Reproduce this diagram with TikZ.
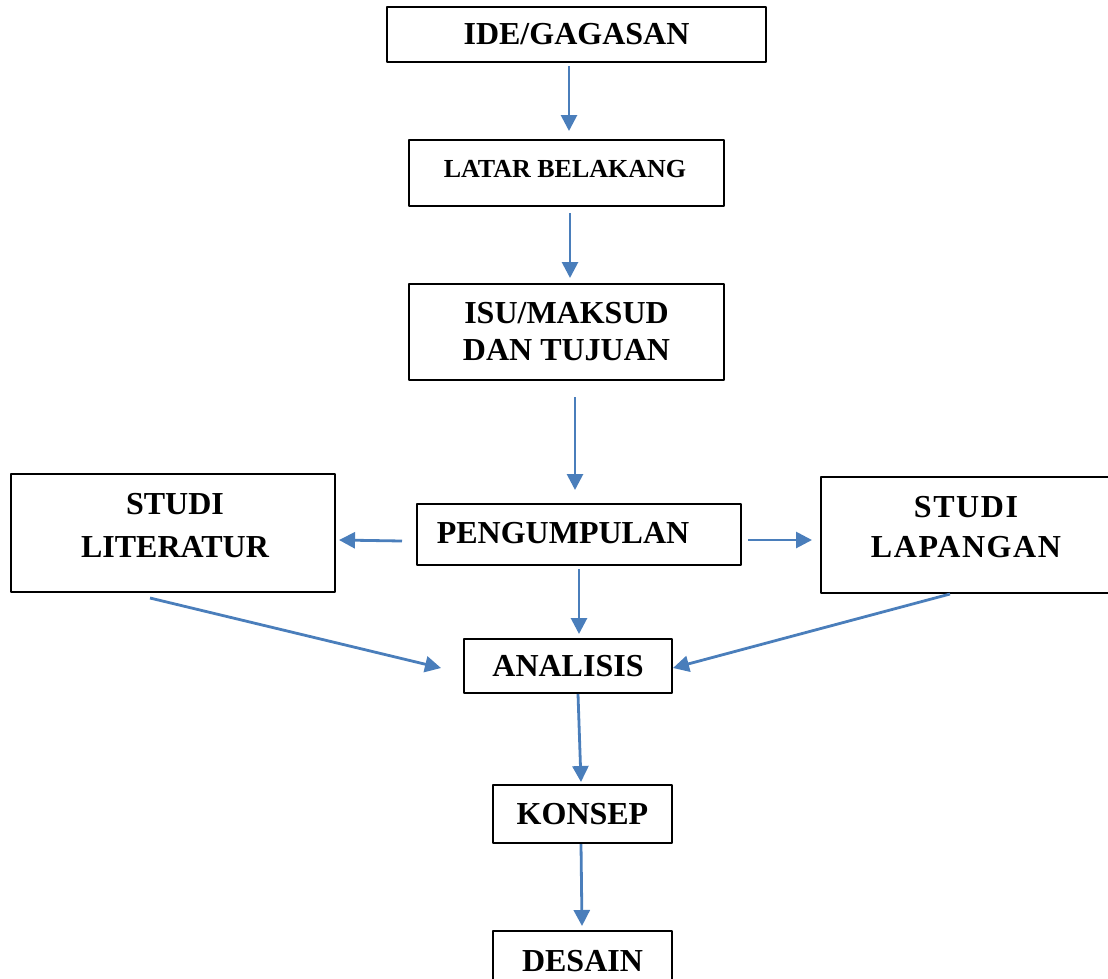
\documentclass[tikz,border=0pt]{standalone}
\usepackage{fontspec}
\setmainfont{Liberation Serif}
\usetikzlibrary{arrows.meta}
\definecolor{flowblue}{RGB}{74,126,187}

\begin{document}
\begin{tikzpicture}[x=1pt,y=-1pt,line cap=round,line join=round,
  box/.style={draw=black,line width=2pt,inner sep=0pt,font=\bfseries\fontsize{32}{37}\selectfont,align=center},
  txt/.style={inner sep=0pt,font=\bfseries\fontsize{32}{37}\selectfont,align=center},
  flow/.style={draw=flowblue,line width=2.8pt,line cap=butt,-{Triangle[length=16pt,width=16pt]}}]
  \useasboundingbox (0,0) rectangle (1108,978);
  % boxes
  \node[box,minimum width=379,minimum height=55] (ide) at (576.5,34.5) {IDE/GAGASAN};
  \node[box,minimum width=315,minimum height=66] (latar) at (566.5,173) {};
  \node[txt,font=\bfseries\fontsize{26}{30}\selectfont] (latar-t) at (565,169) {LATAR BELAKANG};
  \node[box,minimum width=315,minimum height=96] (isu) at (566.5,332) {ISU/MAKSUD\\DAN TUJUAN};
  \node[box,minimum width=324,minimum height=61] (peng) at (579,534.5) {};
  \node[txt] (peng-t) at (563,533) {PENGUMPULAN};
  \node[box,minimum width=324,minimum height=118] (lit) at (173,533) {};
  \node[txt,font=\bfseries\fontsize{32}{43}\selectfont] (lit-t) at (175,525.5) {STUDI\\LITERATUR};
  \node[box,minimum width=289,minimum height=116] (lap) at (965.5,535) {};
  \node[txt,font=\bfseries\fontsize{32}{40.5}\selectfont\addfontfeature{LetterSpace=5}] (lap-t) at (966,527) {STUDI\\LAPANGAN};
  \node[box,minimum width=208,minimum height=54] (anal) at (568,666) {ANALISIS};
  \node[box,minimum width=179,minimum height=58] (konsep) at (582.5,814) {KONSEP};
  \node[box,minimum width=179,minimum height=60] (desain) at (582.5,961) {DESAIN};
  % arrows
  \draw[flow] ([shift={(-7.5,3)}]ide.south) -- ([shift={(2.5,-8)}]latar.north);
  \draw[flow] ([shift={(3.5,6)}]latar.south) -- ([shift={(3.5,-5)}]isu.north);
  \draw[flow] ([shift={(8.5,16)}]isu.south) -- ([shift={(-4,-13)}]peng.north);
  \draw[flow] ([shift={(-14,6.5)}]peng.west) -- ([shift={(3,7)}]lit.east);
  \draw[flow] ([shift={(6,5.5)}]peng.east) -- ([shift={(-8,5)}]lap.west);
  \draw[flow] ([shift={(0,3)}]peng.south) -- ([shift={(11,-4)}]anal.north);
  \draw[flow] ([shift={(-23,5)}]lit.south) -- ([shift={(-22,2)}]anal.west);
  \draw[flow] ([shift={(-15.5,0)}]lap.south) -- ([shift={(0,2)}]anal.east);
  \draw[flow] ([shift={(10,0)}]anal.south) -- ([shift={(-1.5,-2)}]konsep.north);
  \draw[flow] ([shift={(-1.5,0)}]konsep.south) -- ([shift={(-0.5,-4)}]desain.north);
\end{tikzpicture}
\end{document}
